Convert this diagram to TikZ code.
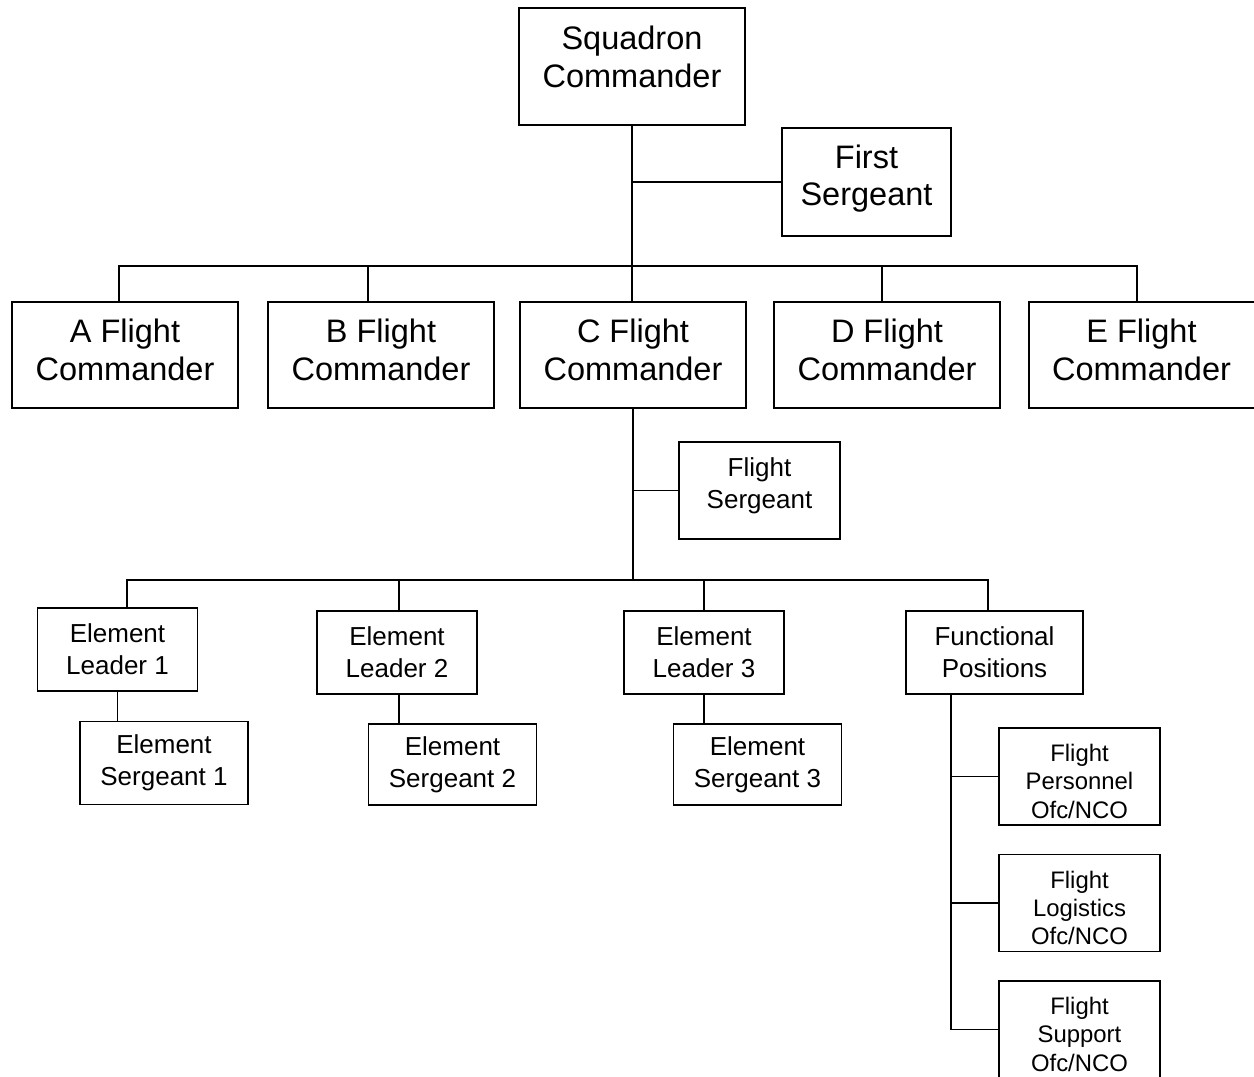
\documentclass[tikz,border=0pt]{standalone}
\usepackage{fontspec}
\setmainfont{Liberation Sans}

\begin{document}
\begin{tikzpicture}[x=0.02cm, y=-0.02cm, line width=1.1pt,
  box/.style={draw, rectangle, inner sep=0pt, align=center},
  bigfont/.style={font=\fontsize{18.5}{21.5}\selectfont},
  midfont/.style={font=\fontsize{14.8}{18}\selectfont},
  smallfont/.style={font=\fontsize{13.6}{16.2}\selectfont},
  big/.style={box, bigfont},
  mid/.style={box, midfont},
  small/.style={box, smallfont, minimum width=3.22cm, minimum height=1.94cm},
  lift/.style={align=center, inner sep=0pt, yshift=#1}]
\useasboundingbox (0,0) rectangle (1254,1076);
% squadron level
\node[big, minimum width=4.52cm, minimum height=2.34cm, label={[lift=5.4pt, bigfont]center:{Squadron\\Commander}}] (sq) at (632,66.5) {};
\node[big, minimum width=3.38cm, minimum height=2.16cm, label={[lift=2pt, bigfont]center:{First\\Sergeant}}] (fs) at (866.5,182) {};
\node[big, minimum width=4.52cm, minimum height=2.12cm, label={[lift=2.8pt, bigfont]center:{A Flight\\Commander}}] (a) at (125,355) {};
\node[big, minimum width=4.52cm, minimum height=2.12cm, label={[lift=2.8pt, bigfont]center:{B Flight\\Commander}}] (b) at (381,355) {};
\node[big, minimum width=4.52cm, minimum height=2.12cm, label={[lift=2.8pt, bigfont]center:{C Flight\\Commander}}] (c) at (633,355) {};
\node[big, minimum width=4.52cm, minimum height=2.12cm, label={[lift=2.8pt, bigfont]center:{D Flight\\Commander}}] (d) at (887,355) {};
\node[big, minimum width=4.52cm, minimum height=2.12cm, label={[lift=2.8pt, bigfont]center:{E Flight\\Commander}}] (e) at (1141.5,355) {};
\coordinate (cmdbar) at (632,266);
\draw (sq.south) -- (sq.south |- c.north);
\draw (fs.west) -- (fs.west -| sq.south);
\draw ([xshift=-0.12cm]a.north) |- (cmdbar) -| ([xshift=-0.09cm]e.north);
\draw ([xshift=-0.26cm]b.north) -- ([xshift=-0.26cm]b.north |- cmdbar);
\draw ([xshift=-0.1cm]d.north) -- ([xshift=-0.1cm]d.north |- cmdbar);
% flight level
\node[mid, minimum width=3.22cm, minimum height=1.94cm, label={[lift=2.8pt, midfont]center:{Flight\\Sergeant}}] (fsgt) at (759.5,490.5) {};
\node[mid, minimum width=3.2cm, minimum height=1.66cm] (el1) at (117.5,649.5) {Element\\Leader 1};
\node[mid, minimum width=3.2cm, minimum height=1.66cm] (el2) at (397,652.5) {Element\\Leader 2};
\node[mid, minimum width=3.2cm, minimum height=1.66cm] (el3) at (704,652.5) {Element\\Leader 3};
\node[mid, minimum width=3.54cm, minimum height=1.66cm] (fp) at (994.5,652.5) {Functional\\Positions};
\node[mid, minimum width=3.36cm, minimum height=1.66cm] (es1) at (164,763) {Element\\Sergeant 1};
\node[mid, minimum width=3.36cm, minimum height=1.62cm] (es2) at (452.5,764.5) {Element\\Sergeant 2};
\node[mid, minimum width=3.36cm, minimum height=1.62cm] (es3) at (757.5,764.5) {Element\\Sergeant 3};
\coordinate (elbar) at (632,580);
\draw (c.south) -- (c.south |- elbar);
\draw (fsgt.west) -- (fsgt.west -| elbar);
\draw ([xshift=0.19cm]el1.north) |- (elbar) -| ([xshift=-0.13cm]fp.north);
\draw ([xshift=0.04cm]el2.north) -- ([xshift=0.04cm]el2.north |- elbar);
\draw (el3.north) -- (el3.north |- elbar);
\draw (el1.south) -- (el1.south |- es1.north);
\draw ([xshift=0.04cm]el2.south) -- ([xshift=0.04cm]el2.south |- es2.north);
\draw (el3.south) -- (el3.south |- es3.north);
% functional positions
\node[small, label={[lift=-2.8pt, smallfont]center:{Flight\\Personnel\\Ofc/NCO}}] (per) at (1079.5,776.5) {};
\node[small, label={[lift=-2.8pt, smallfont]center:{Flight\\Logistics\\Ofc/NCO}}] (log) at (1079.5,903) {};
\node[small, label={[lift=-2.8pt, smallfont]center:{Flight\\Support\\Ofc/NCO}}] (sup) at (1079.5,1029.5) {};
\coordinate (fptrunk) at (951,694);
\draw (fptrunk) |- (sup.west);
\draw (per.west) -- (per.west -| fptrunk);
\draw (log.west) -- (log.west -| fptrunk);
\end{tikzpicture}
\end{document}
